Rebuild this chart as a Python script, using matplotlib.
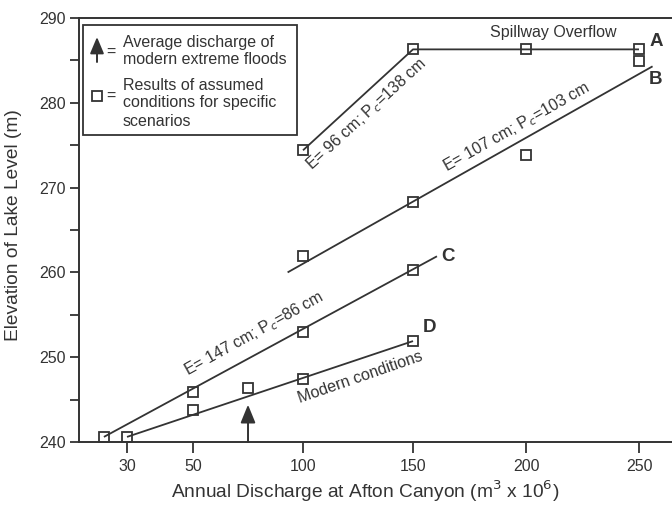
import numpy as np
import matplotlib
matplotlib.use('Agg')
import matplotlib.pyplot as plt
from matplotlib.patches import Rectangle, FancyArrowPatch
from matplotlib.lines import Line2D

plt.rcParams['font.family'] = ['Liberation Sans', 'DejaVu Sans']

# values
# x axis of the original is drawn unevenly (30 -> 50 is wider than 50 -> 100)
x_knots = [0, 30, 50, 100, 150, 200, 250, 300]
x_knot_pos = [28, 127, 193, 303, 413, 526, 639, 752]

# line A (spillway)
a_x = [100, 150, 200, 250]
a_y = [274.4, 286.3, 286.3, 286.3]
# line B (fit line + scenario points)
b_line_x = [93, 256]
b_line_y = [260.0, 284.3]
b_x = [100, 150, 200, 250]
b_y = [261.9, 268.3, 273.8, 284.9]
# line C
c_line_x = [23, 160.6]
c_line_y = [240.6, 261.9]
c_x = [23, 50, 100, 150]
c_y = [240.6, 245.9, 253.0, 260.3]
# line D (modern conditions)
d_line_x = [30, 150]
d_line_y = [240.6, 251.9]
d_x = [30, 50, 75, 100, 150]
d_y = [240.6, 243.8, 246.4, 247.4, 251.9]

flood_x = 75
flood_top = 244.4

x_ticks = [30, 50, 100, 150, 200, 250]
y_ticks = [240, 250, 260, 270, 280, 290]
y_minor = [245, 255, 265, 275, 285]

INK = '#333333'


def fwd(x):
    return np.interp(x, x_knots, x_knot_pos)


def inv(p):
    return np.interp(p, x_knot_pos, x_knots)


fig = plt.figure(figsize=(6.72, 5.05), dpi=100)
W, H = 672, 505


def fx(px):
    return px / W


def fy(py):
    return 1 - py / H


ax = fig.add_axes([fx(79), fy(442), fx(672) - fx(79), fy(18) - fy(442)])
ax.set_xscale('function', functions=(fwd, inv))
ax.set_xlim(15.45, 264.6)
ax.set_ylim(240, 290)

lkw = dict(color=INK, lw=1.3, solid_capstyle='butt')
mkw = dict(ls='none', marker='s', ms=6.5, mfc='none', mec=INK, mew=1.3)

ax.plot(a_x, a_y, **lkw)
ax.plot(a_x, a_y, **mkw)
ax.plot(b_line_x, b_line_y, **lkw)
ax.plot(b_x, b_y, **mkw)
ax.plot(c_line_x, c_line_y, **lkw)
ax.plot(c_x, c_y, **mkw)
ax.plot(d_line_x, d_line_y, **lkw)
ax.plot(d_x, d_y, **mkw)

ax.annotate('', xy=(flood_x, flood_top), xytext=(flood_x, 240),
            arrowprops=dict(arrowstyle='-|>,head_length=1.1,head_width=0.45',
                            lw=1.4, color=INK, shrinkA=0, shrinkB=0))

# axes styling
for s in ['left', 'bottom', 'top']:
    ax.spines[s].set_color(INK)
    ax.spines[s].set_linewidth(1.4)
ax.spines['right'].set_visible(False)
ax.set_xticks(x_ticks)
ax.set_xticklabels([str(t) for t in x_ticks])
ax.set_yticks(y_ticks)
ax.set_yticks(y_minor, minor=True)
ax.xaxis.set_minor_locator(matplotlib.ticker.NullLocator())
ax.tick_params(axis='both', which='both', direction='out', color=INK,
               width=1.3, labelcolor=INK, labelsize=11.5)
ax.tick_params(axis='x', length=8, pad=4)
ax.tick_params(axis='y', which='both', length=6.5, pad=3)
ax.tick_params(top=False, right=False)

fig.text(fx(365), fy(491), 'Annual Discharge at Afton Canyon (m$^3$ x 10$^6$)',
         ha='center', va='center', fontsize=13.8, color=INK)
fig.text(fx(14), fy(225), 'Elevation of Lake Level (m)', rotation=90,
         ha='center', va='center', fontsize=13.8, color=INK)


# labels along the lines, angle from display coords
def line_angle(x0, y0, x1, y1):
    p0 = ax.transData.transform((x0, y0))
    p1 = ax.transData.transform((x1, y1))
    return np.degrees(np.arctan2(p1[1] - p0[1], p1[0] - p0[0]))


tkw = dict(ha='center', va='center', rotation_mode='anchor', color=INK, fontsize=11.5)
ax.text(129, 278.7, 'E= 96 cm; P$_c$=138 cm',
        rotation=line_angle(a_x[0], a_y[0], a_x[1], a_y[1]), **tkw)
ax.text(196, 277.1, 'E= 107 cm; P$_c$=103 cm',
        rotation=line_angle(b_line_x[0], b_line_y[0], b_line_x[1], b_line_y[1]), **tkw)
ax.text(78, 252.8, 'E= 147 cm; P$_c$=86 cm',
        rotation=line_angle(50, 245.9, 150, 260.3), **tkw)
ax.text(126, 247.6, 'Modern conditions',
        rotation=line_angle(100, 247.4, 150, 251.9), **tkw)
ax.text(212, 288.3, 'Spillway Overflow', ha='center', va='center', color=INK, fontsize=11.5)

for lab, lx, ly in [('A', 257.5, 287.2), ('B', 257.5, 282.8),
                    ('C', 165.5, 261.9), ('D', 157.5, 253.5)]:
    ax.text(lx, ly, lab, ha='center', va='center', color=INK, fontsize=13.5,
            fontweight='bold')

# hand-made legend box
fig.patches.append(Rectangle((fx(83), fy(135)), fx(297) - fx(83), fy(25) - fy(135),
                             transform=fig.transFigure, fill=False, ec=INK, lw=1.3))
fig.add_artist(FancyArrowPatch(
    (fx(97), fy(62)), (fx(97), fy(37)), transform=fig.transFigure,
    arrowstyle='-|>,head_length=1.0,head_width=0.42', mutation_scale=10,
    lw=1.4, color=INK, shrinkA=0, shrinkB=0))
fig.lines.append(Line2D([fx(97)], [fy(96)], transform=fig.transFigure,
                        marker='s', ms=6.5, mfc='none', mec=INK, mew=1.3))
lg = dict(ha='left', va='center', color=INK, fontsize=11.5)
fig.text(fx(106), fy(52), '=', **lg)
fig.text(fx(106), fy(96), '=', **lg)
fig.text(fx(123), fy(42), 'Average discharge of', **lg)
fig.text(fx(123), fy(60), 'modern extreme floods', **lg)
fig.text(fx(123), fy(85), 'Results of assumed', **lg)
fig.text(fx(123), fy(103), 'conditions for specific', **lg)
fig.text(fx(123), fy(122), 'scenarios', **lg)

fig.savefig('out.png', dpi=100)
